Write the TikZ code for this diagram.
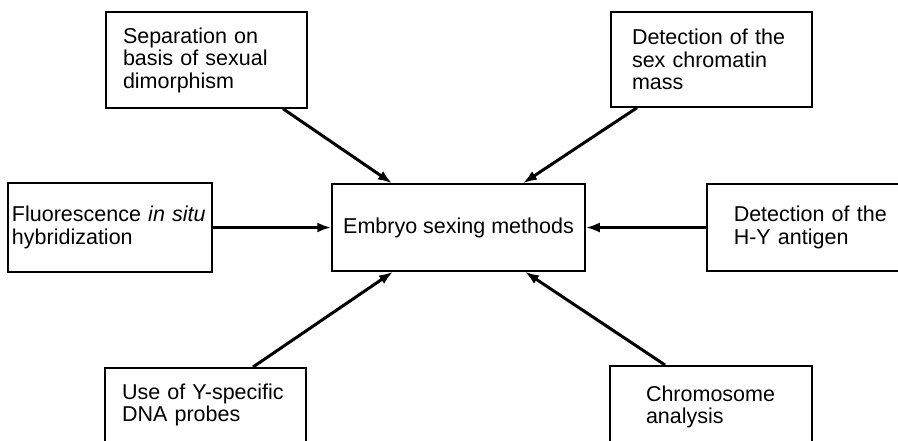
\documentclass[tikz,border=0pt]{standalone}
\usepackage{fontspec}
\setmainfont{Liberation Sans}
\usetikzlibrary{arrows.meta}

\begin{document}
\begin{tikzpicture}[x=1pt, y=-1pt, >={Latex[length=14pt, width=10pt]},
    box/.style={draw, line width=1.5pt, rectangle, align=left,
        font=\fontsize{21.5}{22.5}\selectfont},
    feed/.style={->, line width=3pt}]

    % ============================================================
    % FRAME (the outer boxes run past the page edge)
    % ============================================================
    \useasboundingbox (0,0) rectangle (898,440);
    \clip (0,0) rectangle (898,440);

    % ============================================================
    % CENTRE
    % ============================================================
    \node[box, align=center, minimum width=253pt, minimum height=87pt]
        (emb) at (458.5,227.5) {Embryo sexing methods};

    % ============================================================
    % METHODS
    % ============================================================
    \node[box, minimum height=96pt, inner xsep=17pt, text width=167pt]
        (sep) at (206.5,60) {Separation on\\basis of sexual\\dimorphism};
    \node[box, minimum height=95pt, inner xsep=21pt, text width=159pt]
        (chrom) at (711.5,59.5) {Detection of the\\sex chromatin\\mass};
    \node[box, minimum height=89pt, inner xsep=4pt, text width=196pt]
        (fish) at (110,227.5) {Fluorescence \textit{in situ}\\hybridization};
    \node[box, anchor=west, minimum height=87pt, inner xsep=27pt, text width=176pt]
        (hy) at (706,227.5) {Detection of the\\H-Y antigen};

    % Cut off at the foot of the page
    \node[box, anchor=north, inner xsep=17pt, text width=167pt,
        inner ysep=16pt, text depth=40pt]
        (ydna) at (205.5,367) {Use of Y-specific\\DNA probes};
    \node[box, anchor=north, inner xsep=36pt, text width=130pt,
        inner ysep=20pt, text depth=40pt]
        (karyo) at (711,365) {Chromosome\\analysis};

    % ============================================================
    % CONNECTORS
    % ============================================================
    \draw[feed] ([xshift=76.5pt]sep.south) -- ([xshift=-66.5pt]emb.north);
    \draw[feed] ([xshift=-74.5pt]chrom.south) -- ([xshift=64.5pt]emb.north);
    \draw[feed] (fish.east) -- (emb.west);
    \draw[feed] (hy.west) -- (emb.east);
    \draw[feed] ([xshift=47.5pt]ydna.north) -- ([xshift=-65.5pt]emb.south);
    \draw[feed] ([xshift=-46pt]karyo.north) -- ([xshift=66.5pt]emb.south);

\end{tikzpicture}
\end{document}
